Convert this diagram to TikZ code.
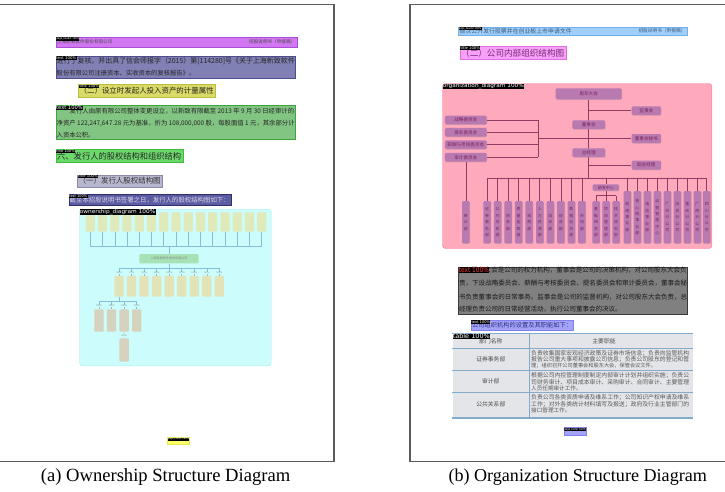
\documentclass[tikz,border=0pt]{standalone}
\usepackage{fontspec}
\usepackage{graphicx}
\setmainfont{Liberation Serif}
\newfontfamily\cjk{Noto Sans CJK SC}
\newfontfamily\tagf{DejaVu Sans}
\usetikzlibrary{shadows}
\pgfdeclarelayer{bg}
\pgfdeclarelayer{ln}
\pgfsetlayers{bg,ln,main}
\definecolor{pagel}{HTML}{5A5A5A}
\definecolor{hdrA}{HTML}{D277F2}
\definecolor{hdrAb}{HTML}{A84FD6}
\definecolor{txtA}{HTML}{8080B4}
\definecolor{txtAb}{HTML}{4E4E8E}
\definecolor{yelA}{HTML}{DADA66}
\definecolor{yelAb}{HTML}{BDBD3C}
\definecolor{grnA}{HTML}{82C482}
\definecolor{grnAb}{HTML}{3FA33F}
\definecolor{grnB}{HTML}{6CD86C}
\definecolor{grnBb}{HTML}{3CBF3C}
\definecolor{gryA}{HTML}{B6B6CE}
\definecolor{gryAb}{HTML}{8A8AA8}
\definecolor{navA}{HTML}{5C5CA2}
\definecolor{navAb}{HTML}{2E2E6E}
\definecolor{navT}{HTML}{D8D8EA}
\definecolor{cyaA}{HTML}{CCFCFC}
\definecolor{cyaAb}{HTML}{A8ECEC}
\definecolor{ftA}{HTML}{FFFF66}
\definecolor{ftAb}{HTML}{E6E64D}
\definecolor{oboxA}{HTML}{E0E9BA}
\definecolor{oboxB}{HTML}{E2E3B6}
\definecolor{oboxC}{HTML}{D5D2BE}
\definecolor{ocen}{HTML}{A6E2B6}
\definecolor{olin}{HTML}{86BEDC}
\definecolor{otxt}{HTML}{8A8A80}
\definecolor{hdrB}{HTML}{A0CFF8}
\definecolor{hdrBb}{HTML}{6FAEEA}
\definecolor{hdrBt}{HTML}{3A5A80}
\definecolor{magB}{HTML}{F6A0F6}
\definecolor{magBb}{HTML}{E36DE3}
\definecolor{magBt}{HTML}{7A2A7A}
\definecolor{pnkB}{HTML}{FFA9BC}
\definecolor{pnkBb}{HTML}{F57A96}
\definecolor{orgbx}{HTML}{B97AB2}
\definecolor{orgtx}{HTML}{7A2458}
\definecolor{orgln}{HTML}{8E3C62}
\definecolor{gryB}{HTML}{808080}
\definecolor{gryBb}{HTML}{3A3A3A}
\definecolor{perB}{HTML}{A3A3F8}
\definecolor{perBb}{HTML}{8080F0}
\definecolor{perBt}{HTML}{303080}
\definecolor{tabB}{HTML}{E3E5E8}
\definecolor{tabl}{HTML}{82AACA}
\definecolor{redT}{HTML}{FF3A3A}
\newcommand\rgn[6]{\node[#6, anchor=north west, inner sep=0pt, minimum width={#4-#2}, minimum height={#5-#3}] (#1) at (#2,#3) {};}
\newcommand\tagb[7]{\node[anchor=north west, fill=black, inner sep=0.3pt, text=#7] (#1) at (#2,#3) {\resizebox*{#4pt}{#5pt}{\tagf #6}};}
\newcommand\txl[6]{\node[anchor=west, inner sep=0pt, text=#6] (#1) at (#2,#3) {\resizebox{#4pt}{!}{\cjk #5}};}
\newcommand\txn[6]{\node[anchor=west, inner sep=0pt, text=#6, font=\cjk\fontsize{#4}{#4}\selectfont] (#1) at (#2,#3) {#5};}
\begin{document}
\begin{tikzpicture}[x=1pt,y=-1pt,
  pageln/.style={draw=pagel, line width=1.1pt},
  oconn/.style={draw=olin, line width=0.55pt},
  obx/.style={rounded corners=1pt, inner sep=0pt, minimum width=9.3},
  olbl/.style={font=\fontsize{2.6}{3}\selectfont, text=otxt, inner sep=0.2pt, fill=cyaA},
  gbx/.style={fill=orgbx, rounded corners=1.2pt, inner sep=0pt, text=orgtx, font=\cjk\fontsize{4.6}{5}\selectfont, drop shadow={shadow xshift=0.5pt, shadow yshift=-0.6pt, opacity=0.3}},
  gvx/.style={gbx, minimum width=7.5, font=\cjk\fontsize{3.9}{6.4}\selectfont, align=center},
  gconn/.style={draw=orgln, line width=0.6pt},
  tabln/.style={draw=tabl, line width=0.6pt},
  tbt/.style={font=\cjk\fontsize{5.8}{6}\selectfont, text=black!70, inner sep=0pt}
]
\useasboundingbox (0,0) rectangle (725,491);
\begin{pgfonlayer}{bg}
\fill[white] (0,0) rectangle (725,491);
% page (a) regions
\rgn{ahdr}{55.7}{36.7}{296.7}{46.7}{fill=hdrA, draw=hdrAb}
\rgn{atxt1}{55.7}{55.7}{295}{78.3}{fill=txtA, draw=txtAb}
\rgn{atit1}{78.3}{84.3}{215}{96.7}{fill=yelA, draw=yelAb}
\rgn{atxt2}{55.7}{105.3}{295}{139.3}{fill=grnA, draw=grnAb}
\rgn{atit2}{55.7}{149.3}{182.7}{162.3}{fill=grnB, draw=grnBb}
\rgn{atit3}{77.3}{174.7}{162}{186.7}{fill=gryA, draw=gryAb}
\rgn{atxt3}{68.7}{194.3}{231}{205.3}{fill=navA, draw=navAb}
\rgn{adiag}{79.3}{209}{271}{365.7}{fill=cyaA, draw=cyaAb, rounded corners=3pt}
\rgn{afoot}{167.3}{437.3}{189.3}{444.3}{fill=ftA, draw=ftAb}
% page (b) regions
\rgn{bhdr}{458.3}{26.7}{686.7}{35}{fill=hdrB, draw=hdrBb}
\rgn{btit}{460}{45.7}{565.7}{59.3}{fill=magB, draw=magBb}
\rgn{bdiag}{442.3}{83.3}{711.7}{248.3}{fill=pnkB, draw=pnkBb, rounded corners=3pt}
\rgn{btxt}{458.3}{266.7}{687.3}{314}{fill=gryB, draw=gryBb}
\rgn{btxt2}{471}{320}{573.3}{330}{fill=perB, draw=perBb}
\rgn{btab}{452.3}{333.3}{692.3}{419}{fill=tabB}
\rgn{bfoot}{564}{427.3}{586}{435}{fill=perB, draw=perBb}
\end{pgfonlayer}
% page frames
\draw[pageln] (0,4.5) -- (334,4.5) -- (334,461.7) -- (0,461.7);
\draw[pageln] (725,4.5) -- (410,4.5) -- (410,461.7) -- (725,461.7);
% ---------- page (a) texts
\txn{aht1}{57}{41.8}{4.6}{上海新致软件股份有限公司}{black!70}
\txn{aht2}{249}{41.8}{4.6}{招股说明书（申报稿）}{black!70}
\txl{at1a}{56.5}{61.3}{238}{进行了复核，并出具了信会师报字（2015）第[114280]号《关于上海新致软件}{black!85}
\txn{at1b}{56.5}{73.3}{6.3}{股份有限公司注册资本、实收资本的复核报告》。}{black!85}
\txl{at2}{79.5}{90.8}{134}{（二）设立时发起人投入资产的计量属性}{black!85}
\txl{at3a}{69.5}{111.3}{224.5}{发行人由原有限公司整体变更设立，以新致有限截至 2013 年 9 月 30 日经审计的}{black!85}
\txl{at3b}{56.5}{123.5}{238}{净资产 122,247,647.28 元为基准，折为 108,000,000 股，每股面值 1 元，其余部分计}{black!85}
\txn{at3c}{56.5}{135.3}{6.3}{入资本公积。}{black!85}
\txl{at4}{57}{156}{124}{六、发行人的股权结构和组织结构}{black!85}
\txl{at5}{78.5}{180.8}{82}{（一）发行人股权结构图}{black!80}
\txl{at6}{69.5}{200}{160}{截至本招股说明书签署之日，发行人的股权结构图如下：}{navT}
% ownership diagram
\foreach \i in {0,...,14}{
  \pgfmathsetmacro\xx{90.3+12.24*\i}
  \node[obx, fill=oboxA, minimum height=19.4] (t\i) at (\xx,222) {};
}
\node[fill=ocen, rounded corners=1.2pt, minimum width=59.4, minimum height=9.3, inner sep=0pt, text=otxt] (oc) at (169,258.7) {\resizebox{37pt}{!}{\cjk 上海新致软件股份有限公司}};
\coordinate (obus1) at (169,246.7);
\coordinate (obus2) at (169,268.3);
\foreach \p [count=\i from 0] in {100\%,70\%,100\%,100\%,100\%,100\%,100\%,60\%,100\%}{
  \pgfmathsetmacro\xx{119+12.54*\i}
  \node[obx, fill=oboxB, minimum height=20.7] (m\i) at (\xx,286.3) {};
  \node[olbl] (ml\i) at (\xx,272.7) {\p};
}
\coordinate (obus3) at (119,301);
\foreach \i in {0,...,3}{
  \pgfmathsetmacro\xx{99+12.57*\i}
  \node[obx, fill=oboxC, minimum height=22.4] (r\i) at (\xx,320.5) {};
  \node[olbl] (rl\i) at (\xx,306) {100\%};
}
\node[obx, fill=oboxC, minimum height=23.4] (d0) at (124.14,350) {};
\node[olbl] (dl0) at (124.14,335.5) {100\%};
\begin{pgfonlayer}{ln}
\foreach \i in {0,...,14}{\draw[oconn] (t\i.south) -- (t\i.south |- obus1);}
\draw[oconn] (t0.south |- obus1) -- (t14.south |- obus1);
\draw[oconn] (obus1) -- (oc.north);
\draw[oconn] (oc.south) -- (obus2);
\draw[oconn] (m0.north |- obus2) -- (m8.north |- obus2);
\foreach \i in {0,...,8}{\draw[oconn] (m\i.north |- obus2) -- (m\i.north);}
\draw[oconn] (m0.south) -- (obus3);
\draw[oconn] (r0.north |- obus3) -- (r3.north |- obus3);
\foreach \i in {0,...,3}{\draw[oconn] (r\i.north |- obus3) -- (r\i.north);}
\draw[oconn] (r2.south) -- (d0.north);
\end{pgfonlayer}
% ---------- page (b) texts
\txl{bh1}{459.5}{31}{112}{首次公开发行股票并在创业板上市申请文件}{hdrBt}
\txn{bh2}{638.3}{31}{4.7}{招股说明书（申报稿）}{hdrBt}
\txl{bt1}{461}{53.3}{103}{（二）公司内部组织结构图}{magBt}
% org diagram
\node[gbx, minimum width=66, minimum height=11] (gd) at (588.7,93.8) {股东大会};
\node[gbx, minimum width=29.3, minimum height=8.7] (jsh) at (646.3,110.7) {监事会};
\node[gbx, minimum width=32.7, minimum height=8.7] (dsh) at (588.7,124.7) {董事会};
\node[gbx, minimum width=29.3, minimum height=9] (dms) at (646.3,138.5) {董事会秘书};
\node[gbx, minimum width=32.7, minimum height=8.7] (zjl) at (588.7,152.7) {总经理};
\node[gbx, minimum width=29.3, minimum height=9] (fzj) at (646.3,165.2) {副总经理};
\node[gbx, minimum width=41.7, minimum height=8.7] (c1) at (465.8,120) {战略委员会};
\node[gbx, minimum width=41.7, minimum height=8.7] (c2) at (465.8,132.3) {提名委员会};
\node[gbx, minimum width=41.7, minimum height=8.7] (c3) at (465.8,144.7) {薪酬与考核委员会};
\node[gbx, minimum width=41.7, minimum height=8.7] (c4) at (465.8,157.3) {审计委员会};
\node[gvx, minimum height=42.3] (sjb) at (465.8,222.2) {审\\计\\部};
\foreach \nm [count=\i from 0] in {{证\\券\\事\\务\\部},{公\\共\\关\\系\\部},{财\\务\\部},{质\\量\\监\\察\\部},{采\\购\\部},{人\\力\\资\\源\\部},{培\\训\\部},{综\\合\\部},{数\\据\\业\\务\\部},{市\\场\\部}}{
  \pgfmathsetmacro\xx{487+10.55*\i}
  \node[gvx, minimum height=42.3] (b\i) at (\xx,222.2) {\nm};
}
\node[gbx, minimum width=26.3, minimum height=6.4, font=\cjk\fontsize{4}{4.5}\selectfont] (yf) at (605.8,187.5) {研发中心};
\foreach \nm [count=\i from 0] in {{基\\础\\研\\发\\部},{项\\目\\管\\理\\部},{技\\术\\规\\划\\部}}{
  \pgfmathsetmacro\xx{596+10*\i}
  \node[gvx, minimum height=42.3] (y\i) at (\xx,222.2) {\nm};
}
\foreach \xx/\nm [count=\i from 0] in {627.3/{网\\络\\事\\业\\部},637.3/{核\\心\\网\\事\\业\\部},647.3/{电\\信\\事\\业\\部},657.3/{运\\营\\管\\理\\中\\心},667.3/{广\\州\\分\\公\\司},677.3/{深\\圳\\分\\公\\司},687.3/{重\\庆\\分\\公\\司},697.3/{广\\西\\分\\公\\司},706.7/{四\\川\\分\\公\\司}}{
  \node[gvx, minimum height=52.3] (q\i) at (\xx,217.2) {\nm};
}
\coordinate (gbus) at (588.7,178.7);
\coordinate (cmv) at (538.3,138.5);
\coordinate (ybus) at (605.8,195.7);
\begin{pgfonlayer}{ln}
\draw[gconn] (gd.south) -- (gbus);
\draw[gconn] (gd.south |- jsh.west) -- (jsh.west);
\draw[gconn] (cmv) -- (dms.west);
\draw[gconn] (gd.south |- fzj.west) -- (fzj.west);
\foreach \c in {c1,c2,c3,c4}{\draw[gconn] (\c.east) -- (\c.east -| cmv);}
\draw[gconn] (c1.east -| cmv) -- (c4.east -| cmv);
\draw[gconn] (c4.south) -- (sjb.north);
\draw[gconn] (b0.north |- gbus) -- (q8.north |- gbus);
\foreach \i in {0,...,9}{\draw[gconn] (b\i.north |- gbus) -- (b\i.north);}
\foreach \i in {0,...,8}{\draw[gconn] (q\i.north |- gbus) -- (q\i.north);}
\draw[gconn] (yf.north |- gbus) -- (yf.north);
\draw[gconn] (yf.south) -- (ybus);
\draw[gconn] (y0.north |- ybus) -- (y2.north |- ybus);
\foreach \i in {0,...,2}{\draw[gconn] (y\i.north |- ybus) -- (y\i.north);}
\end{pgfonlayer}
% text block (b)
\txl{bx1}{471.5}{270.3}{215}{股东大会是公司的权力机构，董事会是公司的决策机构，对公司股东大会负}{black!90}
\txl{bx2}{459}{283.5}{228}{责，下设战略委员会、薪酬与考核委员会、提名委员会和审计委员会，董事会秘}{black!90}
\txl{bx3}{459}{296.7}{228}{书负责董事会的日常事务。监事会是公司的监督机构，对公司股东大会负责，总}{black!90}
\txn{bx4}{459}{309.3}{6.5}{经理负责公司的日常经营活动，执行公司董事会的决议。}{black!90}
\txl{bb1}{472}{325.3}{100}{公司组织机构的设置及其职能如下：}{perBt}
% table
\draw[tabln, line width=1.2pt] (btab.north west) -- (btab.north east);
\coordinate (tr1) at (452.3,348.3);
\coordinate (tr2) at (452.3,370.7);
\coordinate (tr3) at (452.3,392.7);
\coordinate (tr4) at (452.3,417.6);
\draw[tabln] (tr1) -- (tr1 -| btab.east);
\draw[tabln] (tr2) -- (tr2 -| btab.east);
\draw[tabln] (tr3) -- (tr3 -| btab.east);
\draw[tabln, line width=1.8pt] (tr4) -- (tr4 -| btab.east);
\draw[tabln] (529.3,333.3) -- (529.3,416.7);
\node[tbt] (th1) at (490.8,340.8) {部门名称};
\node[tbt] (th2) at (604,340.8) {主要职能};
\node[tbt] (tn1) at (490.8,359.5) {证券事务部};
\node[tbt] (tn2) at (490.8,381.7) {审计部};
\node[tbt] (tn3) at (490.8,404.5) {公共关系部};
\txl{r1a}{531}{353.4}{158}{负责收集国家宏观经济政策及证券市场信息；负责向监管机构}{black!65}
\txl{r1b}{531}{359.6}{158}{报告公司重大事项和披露公司信息；负责公司股东的登记和管}{black!65}
\txn{r1c}{531}{365.8}{5.2}{理；组织召开公司董事会和股东大会，保管会议文件。}{black!65}
\txl{r2a}{531}{375.2}{158}{根据公司内控管理制度制定内部审计计划并组织实施；负责公}{black!65}
\txl{r2b}{531}{381.8}{158}{司财务审计、项目成本审计、采购审计、合同审计、主要管理}{black!65}
\txn{r2c}{531}{388.6}{5.6}{人员任期审计工作。}{black!65}
\txl{r3a}{531}{397.4}{158}{负责公司各类资质申请及维系工作；公司知识产权申请及维系}{black!65}
\txl{r3b}{531}{404}{158}{工作；对外各类统计材料填写及报送；政府及行业主管部门的}{black!65}
\txn{r3c}{531}{410.7}{5.6}{接口管理工作。}{black!65}
% tags
\tagb{g1}{56}{36.7}{22.5}{3}{page\_header 100\%}{white}
\tagb{g2}{55.7}{55.7}{20}{3}{text 100\%}{white}
\tagb{g3}{79}{84.3}{19.5}{2.6}{title 100\%}{white}
\tagb{g4}{55.7}{105.3}{26.5}{4}{text 100\%}{white}
\tagb{g5}{55.7}{149.3}{18.5}{2.8}{title 100\%}{white}
\tagb{g6}{77.7}{174.7}{19.5}{2.8}{title 100\%}{white}
\tagb{g7}{68.7}{194.3}{18}{2.8}{text 100\%}{white}
\tagb{g8}{79.3}{209}{75.5}{5.3}{ownership\_diagram 100\%}{white}
\tagb{g9}{167.3}{437.3}{21.2}{2.8}{page\_footer 100\%}{white}
\tagb{h1}{458.3}{26.7}{22.5}{2.8}{page\_header 100\%}{white}
\tagb{h2}{460}{45.7}{19.5}{3}{title 100\%}{white}
\tagb{h3}{442.3}{83.3}{81}{5.3}{organization\_diagram 100\%}{white}
\tagb{h4}{458.3}{266.7}{30}{5.2}{text 100\%}{redT}
\tagb{h5}{471}{320}{18.5}{2.8}{text 100\%}{white}
\tagb{h6}{452.3}{333.3}{37}{5}{table 100\%}{white}
\tagb{h7}{564}{427.3}{21.2}{3}{page\_footer 100\%}{white}
% captions
\node[anchor=west, inner sep=0pt] (capa) at (40.7,477.5) {\resizebox{249.3pt}{!}{(a) Ownership Structure Diagram}};
\node[anchor=west, inner sep=0pt] (capb) at (448.3,477.5) {\resizebox{258.4pt}{!}{(b) Organization Structure Diagram}};
\end{tikzpicture}
\end{document}
